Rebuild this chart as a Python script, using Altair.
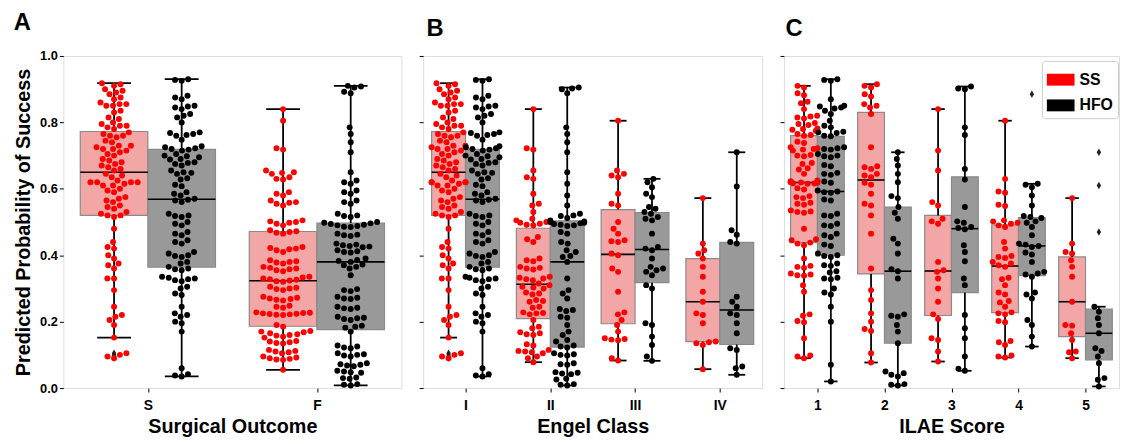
import json
import math
import numpy as np
import pandas as pd
import altair as alt

# ---------------- data ----------------
# Panel A: Surgical Outcome (S = success, F = failure); Panel B class I = S
S_SS = [0.918, 0.915, 0.91, 0.90, 0.895, 0.89, 0.885, 0.875, 0.87, 0.86, 0.855, 0.855,
        0.85, 0.85, 0.835, 0.83, 0.815, 0.81, 0.80, 0.795, 0.79, 0.79, 0.785, 0.78,
        0.77, 0.765, 0.76, 0.76, 0.755, 0.745, 0.74, 0.73, 0.73, 0.725, 0.72, 0.72,
        0.715, 0.71, 0.705, 0.70, 0.69, 0.685, 0.68, 0.675, 0.67, 0.665, 0.66, 0.655,
        0.645, 0.64, 0.635, 0.625, 0.62, 0.62, 0.62, 0.62, 0.615, 0.61, 0.61, 0.60,
        0.595, 0.59, 0.575, 0.57, 0.565, 0.56, 0.55, 0.545, 0.54, 0.53, 0.525, 0.52,
        0.52, 0.515, 0.48, 0.44, 0.425, 0.42, 0.40, 0.39, 0.375, 0.37, 0.36, 0.33,
        0.33, 0.295, 0.245, 0.22, 0.215, 0.205, 0.19, 0.152, 0.105, 0.10, 0.095, 0.09]
S_HFO = [0.93, 0.928, 0.925, 0.88, 0.875, 0.87, 0.85, 0.848, 0.845, 0.84,
         0.825, 0.82, 0.815, 0.80, 0.77, 0.768, 0.765, 0.762, 0.76, 0.748,
         0.728, 0.725, 0.722, 0.72, 0.718, 0.715, 0.705, 0.70, 0.698, 0.695, 0.69, 0.688,
         0.68, 0.678, 0.675, 0.67, 0.655, 0.65, 0.648, 0.645, 0.632, 0.628, 0.612, 0.608,
         0.59, 0.585, 0.58, 0.57, 0.567, 0.565, 0.56, 0.525, 0.52, 0.518, 0.515,
         0.50, 0.495, 0.49, 0.47, 0.465, 0.46, 0.445, 0.44, 0.435,
         0.41, 0.405, 0.40, 0.398, 0.395, 0.38, 0.375, 0.365, 0.36, 0.358, 0.355,
         0.335, 0.332, 0.33, 0.328, 0.325, 0.322, 0.305, 0.30, 0.285, 0.28, 0.245,
         0.225, 0.22, 0.215, 0.20, 0.195, 0.17, 0.06, 0.042, 0.038, 0.035]
F_SS = [0.84, 0.805, 0.722, 0.718, 0.655, 0.65, 0.648, 0.645, 0.635, 0.63, 0.628,
        0.59, 0.585, 0.58, 0.565, 0.56, 0.558, 0.555, 0.55,
        0.505, 0.502, 0.50, 0.498, 0.495, 0.49, 0.475, 0.472, 0.47, 0.468, 0.465,
        0.425, 0.422, 0.42, 0.418, 0.415, 0.41, 0.385, 0.382, 0.38, 0.378, 0.375,
        0.365, 0.362, 0.36, 0.358, 0.355, 0.352,
        0.335, 0.333, 0.33, 0.328, 0.326, 0.324, 0.322, 0.32,
        0.305, 0.302, 0.30, 0.298, 0.295, 0.275, 0.272, 0.27, 0.268, 0.266, 0.264,
        0.248, 0.245, 0.242, 0.228, 0.227, 0.226, 0.225, 0.224, 0.223, 0.222, 0.221, 0.22,
        0.19, 0.185, 0.172, 0.17, 0.168, 0.165, 0.162, 0.16, 0.158, 0.155, 0.152,
        0.142, 0.14, 0.138, 0.136, 0.134, 0.115, 0.112, 0.11, 0.108, 0.105,
        0.095, 0.092, 0.09, 0.088, 0.086, 0.085, 0.055]
F_HFO = [0.91, 0.908, 0.905, 0.892, 0.888, 0.785, 0.765, 0.74, 0.71, 0.65,
         0.625, 0.62, 0.615, 0.595, 0.59, 0.585, 0.565, 0.56, 0.555,
         0.525, 0.52, 0.518, 0.515, 0.50, 0.498, 0.496, 0.494, 0.492, 0.49, 0.488, 0.486, 0.485,
         0.465, 0.462, 0.46, 0.458, 0.435, 0.432, 0.43, 0.428, 0.426, 0.424,
         0.415, 0.412, 0.41, 0.408, 0.39, 0.386, 0.383, 0.38, 0.372, 0.37, 0.365, 0.36,
         0.34, 0.298, 0.295, 0.292, 0.275, 0.272, 0.27, 0.268, 0.245, 0.242, 0.24, 0.238,
         0.215, 0.212, 0.21, 0.208, 0.205, 0.188, 0.185, 0.182, 0.17,
         0.128, 0.125, 0.122, 0.12, 0.105, 0.102, 0.10, 0.098, 0.095,
         0.075, 0.072, 0.07, 0.068, 0.066, 0.052, 0.05, 0.048, 0.046,
         0.032, 0.03, 0.028, 0.012, 0.01, 0.008]

# Panel B: Engel class II-IV
II_SS = [0.84, 0.722, 0.718, 0.655, 0.635, 0.63, 0.585, 0.555, 0.55, 0.53, 0.51, 0.505, 0.50,
         0.498, 0.495, 0.492, 0.49, 0.455, 0.448, 0.44, 0.39, 0.385, 0.382, 0.365, 0.362,
         0.36, 0.357, 0.335, 0.332, 0.33, 0.328, 0.325, 0.315, 0.31,
         0.305, 0.303, 0.30, 0.288, 0.285, 0.282, 0.265, 0.262, 0.26, 0.245, 0.242, 0.228,
         0.226, 0.225, 0.222, 0.205, 0.185, 0.18, 0.168, 0.165, 0.162, 0.16, 0.132, 0.128,
         0.115, 0.112, 0.11, 0.108, 0.105, 0.095, 0.09, 0.078]
II_HFO = [0.905, 0.902, 0.90, 0.888, 0.785, 0.765, 0.74, 0.71, 0.65, 0.615, 0.58, 0.55,
          0.525, 0.52, 0.518, 0.512, 0.505, 0.502, 0.50, 0.498, 0.496, 0.494, 0.492, 0.49,
          0.488, 0.47, 0.465, 0.44, 0.435, 0.415, 0.41, 0.398, 0.395, 0.38,
          0.33, 0.295, 0.285, 0.27, 0.238, 0.235, 0.232, 0.215, 0.212, 0.19,
          0.17, 0.16, 0.145, 0.14, 0.128, 0.125, 0.122,
          0.105, 0.102, 0.10, 0.098, 0.075, 0.072, 0.07, 0.048, 0.046, 0.044, 0.042,
          0.028, 0.026, 0.012, 0.01, 0.008]
III_SS = [0.805, 0.655, 0.645, 0.64, 0.635, 0.585, 0.555, 0.55, 0.50, 0.48, 0.465, 0.445,
          0.442, 0.44, 0.405, 0.40, 0.36, 0.35, 0.29, 0.228, 0.222, 0.205, 0.19, 0.17,
          0.15, 0.148, 0.146, 0.144, 0.09, 0.083]
III_HFO = [0.63, 0.62, 0.605, 0.585, 0.575, 0.545, 0.54, 0.53, 0.525, 0.515, 0.51, 0.505,
           0.465, 0.425, 0.42, 0.415, 0.39, 0.365, 0.36, 0.355, 0.35, 0.34, 0.31, 0.30,
           0.195, 0.19, 0.155, 0.13, 0.095, 0.082]
IV_SS = [0.572, 0.435, 0.415, 0.405, 0.39, 0.365, 0.335, 0.29, 0.26, 0.225, 0.22, 0.195,
         0.14, 0.138, 0.135, 0.13, 0.057]
IV_HFO = [0.71, 0.607, 0.475, 0.462, 0.44, 0.435, 0.275, 0.26, 0.245, 0.225, 0.22, 0.195,
          0.165, 0.12, 0.115, 0.065, 0.06, 0.04]

# Panel C: ILAE score 1-5
C1_SS = [0.91, 0.905, 0.888, 0.882, 0.862, 0.858, 0.84, 0.82, 0.818, 0.815, 0.812,
         0.798, 0.795, 0.792, 0.782, 0.78, 0.778, 0.775, 0.765, 0.762, 0.76, 0.742, 0.738,
         0.725, 0.722, 0.72, 0.718, 0.715, 0.702, 0.70, 0.698, 0.678, 0.675, 0.662, 0.658,
         0.645, 0.625, 0.623, 0.621, 0.62, 0.619, 0.618, 0.617, 0.616, 0.615, 0.602, 0.598,
         0.578, 0.575, 0.572, 0.558, 0.555, 0.552, 0.535, 0.532, 0.53, 0.528, 0.48,
         0.448, 0.445, 0.438, 0.435, 0.43, 0.39, 0.368, 0.365, 0.362,
         0.345, 0.342, 0.34, 0.338, 0.31, 0.29, 0.222, 0.218, 0.202, 0.198, 0.15,
         0.098, 0.095, 0.09]
C1_HFO = [0.93, 0.928, 0.925, 0.87, 0.85, 0.848, 0.845, 0.842, 0.835, 0.825, 0.805, 0.79,
          0.785, 0.772, 0.77, 0.768, 0.76, 0.758, 0.725, 0.722, 0.72, 0.718,
          0.705, 0.70, 0.698, 0.695, 0.672, 0.668, 0.648, 0.645, 0.642, 0.622, 0.618,
          0.595, 0.592, 0.59, 0.588, 0.568, 0.565, 0.525, 0.52, 0.518, 0.495, 0.49, 0.488,
          0.465, 0.46, 0.455, 0.432, 0.428, 0.405, 0.40, 0.398, 0.395, 0.375, 0.37, 0.368,
          0.352, 0.348, 0.332, 0.33, 0.328, 0.30, 0.288, 0.282, 0.245, 0.20, 0.07, 0.02]
C2_SS = [0.915, 0.91, 0.905, 0.885, 0.878, 0.855, 0.85, 0.845, 0.825, 0.725, 0.668, 0.665,
         0.66, 0.645, 0.64, 0.635, 0.618, 0.612, 0.585, 0.555, 0.55, 0.52, 0.465, 0.36,
         0.295, 0.265, 0.225, 0.20, 0.178, 0.172, 0.105, 0.077]
C2_HFO = [0.71, 0.69, 0.67, 0.645, 0.62, 0.578, 0.572, 0.545, 0.528, 0.51, 0.45, 0.435,
          0.405, 0.358, 0.352, 0.33, 0.222, 0.218, 0.215, 0.19, 0.17, 0.135, 0.05, 0.045,
          0.04, 0.035, 0.012, 0.01, 0.008]
C3_SS = [0.84, 0.715, 0.655, 0.56, 0.55, 0.51, 0.502, 0.495, 0.38, 0.355, 0.35, 0.33,
         0.30, 0.26, 0.222, 0.208, 0.15, 0.145, 0.11, 0.08]
C3_HFO = [0.908, 0.902, 0.90, 0.785, 0.762, 0.66, 0.628, 0.545, 0.502, 0.498, 0.485, 0.482,
          0.478, 0.43, 0.41, 0.382, 0.33, 0.31, 0.22, 0.18, 0.15, 0.095, 0.058, 0.052]
C4_SS = [0.805, 0.63, 0.592, 0.588, 0.552, 0.548, 0.505, 0.502, 0.498, 0.495, 0.49, 0.485,
         0.44, 0.42, 0.398, 0.395, 0.392, 0.38, 0.375, 0.37, 0.365, 0.332, 0.328, 0.31,
         0.288, 0.282, 0.262, 0.258, 0.245, 0.228, 0.225, 0.222, 0.202, 0.198, 0.142,
         0.138, 0.13, 0.098, 0.095, 0.092]
C4_HFO = [0.885, 0.615, 0.612, 0.605, 0.58, 0.55, 0.518, 0.515, 0.512, 0.502, 0.498, 0.485,
          0.46, 0.435, 0.432, 0.428, 0.425, 0.408, 0.402, 0.38, 0.35, 0.345, 0.342, 0.335,
          0.288, 0.282, 0.27, 0.205, 0.19, 0.155, 0.125]
C5_SS = [0.572, 0.435, 0.41, 0.405, 0.385, 0.365, 0.335, 0.26, 0.19, 0.188, 0.165, 0.145,
         0.11, 0.108, 0.09]
C5_HFO = [0.71, 0.61, 0.47, 0.245, 0.23, 0.21, 0.19, 0.165, 0.12, 0.112, 0.095, 0.075,
          0.03, 0.025, 0.005]

GROUPS = ["SS", "HFO"]
POINT_COLORS = ["#ff0000", "#000000"]
BOX_SS = "#f2a6a6"
BOX_HFO = "#999999"
Y_TICKS = [0.0, 0.2, 0.4, 0.6, 0.8, 1.0]

PANELS = [
    dict(label="A", cats=["S", "F"], xtitle="Surgical Outcome", width=342, dx=0,
         ss=[S_SS, F_SS], hfo=[S_HFO, F_HFO], hide_out=False),
    dict(label="B", cats=["I", "II", "III", "IV"], xtitle="Engel Class", width=343, dx=8,
         ss=[S_SS, II_SS, III_SS, IV_SS], hfo=[S_HFO, II_HFO, III_HFO, IV_HFO], hide_out=False),
    dict(label="C", cats=["1", "2", "3", "4", "5"], xtitle="ILAE Score", width=339, dx=6,
         ss=[C1_SS, C2_SS, C3_SS, C4_SS, C5_SS], hfo=[C1_HFO, C2_HFO, C3_HFO, C4_HFO, C5_HFO],
         hide_out=True),
]

HEIGHT = 336
DOT_D = 6.8   # dot diameter in px used for swarm layout
FONT = "Liberation Sans"


def swarm_offsets(vals, ppu, d, half):
    """Beeswarm placement (pixel offsets) for values on a vertical axis."""
    ys = np.asarray(vals, float) * ppu
    order = np.argsort(ys, kind="stable")
    placed_x, placed_y = [], []
    offs = np.zeros(len(ys))
    for i in order:
        y = ys[i]
        nb = [(px, py) for px, py in zip(placed_x, placed_y) if abs(py - y) < d]
        cands = [0.0]
        for px, py in nb:
            dx = math.sqrt(max(d * d - (py - y) ** 2, 0.0))
            cands.extend([px - dx, px + dx])
        cands.sort(key=lambda c: (abs(c), c))
        chosen = cands[-1]
        for c in cands:
            if all((c - px) ** 2 + (y - py) ** 2 >= d * d - 1e-6 for px, py in nb):
                chosen = c
                break
        placed_x.append(chosen)
        placed_y.append(y)
        offs[i] = chosen
    return np.clip(offs, -half, half)


def make_panel(p, idx):
    n = len(p["cats"])
    W = p["width"]
    px_per_unit = W / n
    rows = []
    for ci in range(n):
        for g, vals, shift in (("SS", p["ss"][ci], -0.2), ("HFO", p["hfo"][ci], 0.2)):
            offs = swarm_offsets(vals, HEIGHT, DOT_D, 0.2 * px_per_unit)
            xc = ci + shift
            for v, o in zip(vals, offs):
                rows.append(dict(cat=ci, grp=g, v=v, xc=xc, xp=xc + o / px_per_unit))
    df = pd.DataFrame(rows)

    xs = alt.Scale(domain=[-0.5, n - 0.5], nice=False, zero=False)
    ys = alt.Scale(domain=[0, 1], nice=False, zero=False)
    xaxis = alt.Axis(values=list(range(n)), labelExpr=f"{json.dumps(p['cats'])}[datum.value]",
                     title=p["xtitle"], grid=False, domain=False, tickSize=4, tickColor="black",
                     tickWidth=1, labelFontSize=14, labelFontWeight="bold", labelColor="black",
                     labelPadding=7, titleFontSize=20, titleFontWeight="bold", titleColor="black",
                     titlePadding=4, labelFont=FONT, titleFont=FONT)
    if idx == 0:
        yaxis = alt.Axis(values=Y_TICKS, format=".1f", title="Predicted Probability of Success",
                         grid=False, domain=False, tickSize=4, tickColor="black",
                         labelFontSize=13, labelFontWeight="bold", labelColor="black",
                         labelPadding=2, titleFontSize=20, titleFontWeight="bold",
                         titleColor="black", titlePadding=6, labelFont=FONT, titleFont=FONT)
    else:
        yaxis = alt.Axis(values=Y_TICKS, labels=False, title=None, grid=False, domain=False,
                         tickSize=4, tickColor="black")

    def X(f):
        return alt.X(f, scale=xs, axis=xaxis)

    def Y(f):
        return alt.Y(f, scale=ys, axis=yaxis)

    base = alt.Chart(df)
    stats = base.transform_joinaggregate(
        q1="q1(v)", q3="q3(v)", med="median(v)", groupby=["cat", "grp"]
    ).transform_calculate(
        lo="datum.q1 - 1.5 * (datum.q3 - datum.q1)",
        hi="datum.q3 + 1.5 * (datum.q3 - datum.q1)",
    ).transform_calculate(
        out="datum.v < datum.lo || datum.v > datum.hi"
    )
    agg = stats.transform_filter("!datum.out").transform_aggregate(
        wlo="min(v)", whi="max(v)", q1="min(q1)", q3="min(q3)", med="min(med)",
        groupby=["cat", "grp", "xc"]
    ).transform_calculate(
        xl="datum.xc - 0.2", xr="datum.xc + 0.2", cl="datum.xc - 0.1", cr="datum.xc + 0.1"
    )

    box = agg.mark_bar(stroke="#8a8a8a", strokeWidth=1.2, opacity=1).encode(
        x=X("xl:Q"), x2="xr:Q", y=Y("q1:Q"), y2="q3:Q",
        fill=alt.condition("datum.grp == 'SS'", alt.value(BOX_SS), alt.value(BOX_HFO)),
    )
    wl = agg.mark_rule(color="black", strokeWidth=1.8).encode(x=X("xc:Q"), y=Y("wlo:Q"), y2="q1:Q")
    wu = agg.mark_rule(color="black", strokeWidth=1.8).encode(x=X("xc:Q"), y=Y("q3:Q"), y2="whi:Q")
    cl = agg.mark_rule(color="black", strokeWidth=1.8).encode(x=X("cl:Q"), x2="cr:Q", y=Y("wlo:Q"))
    cu = agg.mark_rule(color="black", strokeWidth=1.8).encode(x=X("cl:Q"), x2="cr:Q", y=Y("whi:Q"))
    med = agg.mark_rule(color="black", strokeWidth=1.6).encode(x=X("xl:Q"), x2="xr:Q", y=Y("med:Q"))
    outl = stats.transform_filter("datum.out").mark_point(
        shape="M0,-1L0.6,0L0,1L-0.6,0Z", filled=True, color="#222222", size=55, opacity=1
    ).encode(x=X("xc:Q"), y=Y("v:Q"))

    pts_src = stats.transform_filter("!datum.out") if p["hide_out"] else stats
    scale = alt.Scale(domain=GROUPS, range=POINT_COLORS)
    if idx == 2:
        legend = alt.Legend(orient="none", legendX=261, legendY=5, title=None,
                            direction="vertical",
                            symbolType="M-1,-0.43H1V0.43H-1Z", symbolSize=784,
                            symbolStrokeWidth=0, symbolOpacity=1,
                            labelFontSize=16, labelFontWeight="bold", labelColor="black",
                            labelFont=FONT, labelOffset=5,
                            fillColor="white", strokeColor="#cccccc", padding=5,
                            cornerRadius=3, rowPadding=4)
        color = alt.Color("grp:N", scale=scale, legend=legend)
    else:
        color = alt.Color("grp:N", scale=scale, legend=None)
    pts = pts_src.mark_circle(size=36, opacity=1).encode(x=X("xp:Q"), y=Y("v:Q"), color=color)

    return alt.layer(box, wl, wu, cl, cu, med, outl, pts).properties(
        width=W, height=HEIGHT,
        title=alt.TitleParams(p["label"], anchor="start", fontSize=24, fontWeight="bold",
                              font=FONT, color="black", offset=15, dx=p["dx"]),
    )


charts = [make_panel(p, i) for i, p in enumerate(PANELS)]

chart = alt.hconcat(*charts, spacing=16).resolve_scale(
    color="independent"
).resolve_legend(color="independent").properties(
    padding={"left": 5, "top": 0, "right": 0, "bottom": 0}
).configure_view(stroke="#333333", strokeWidth=1.2).configure(font=FONT)

chart.save("out.html", embed_options={"renderer": "svg", "actions": False})
